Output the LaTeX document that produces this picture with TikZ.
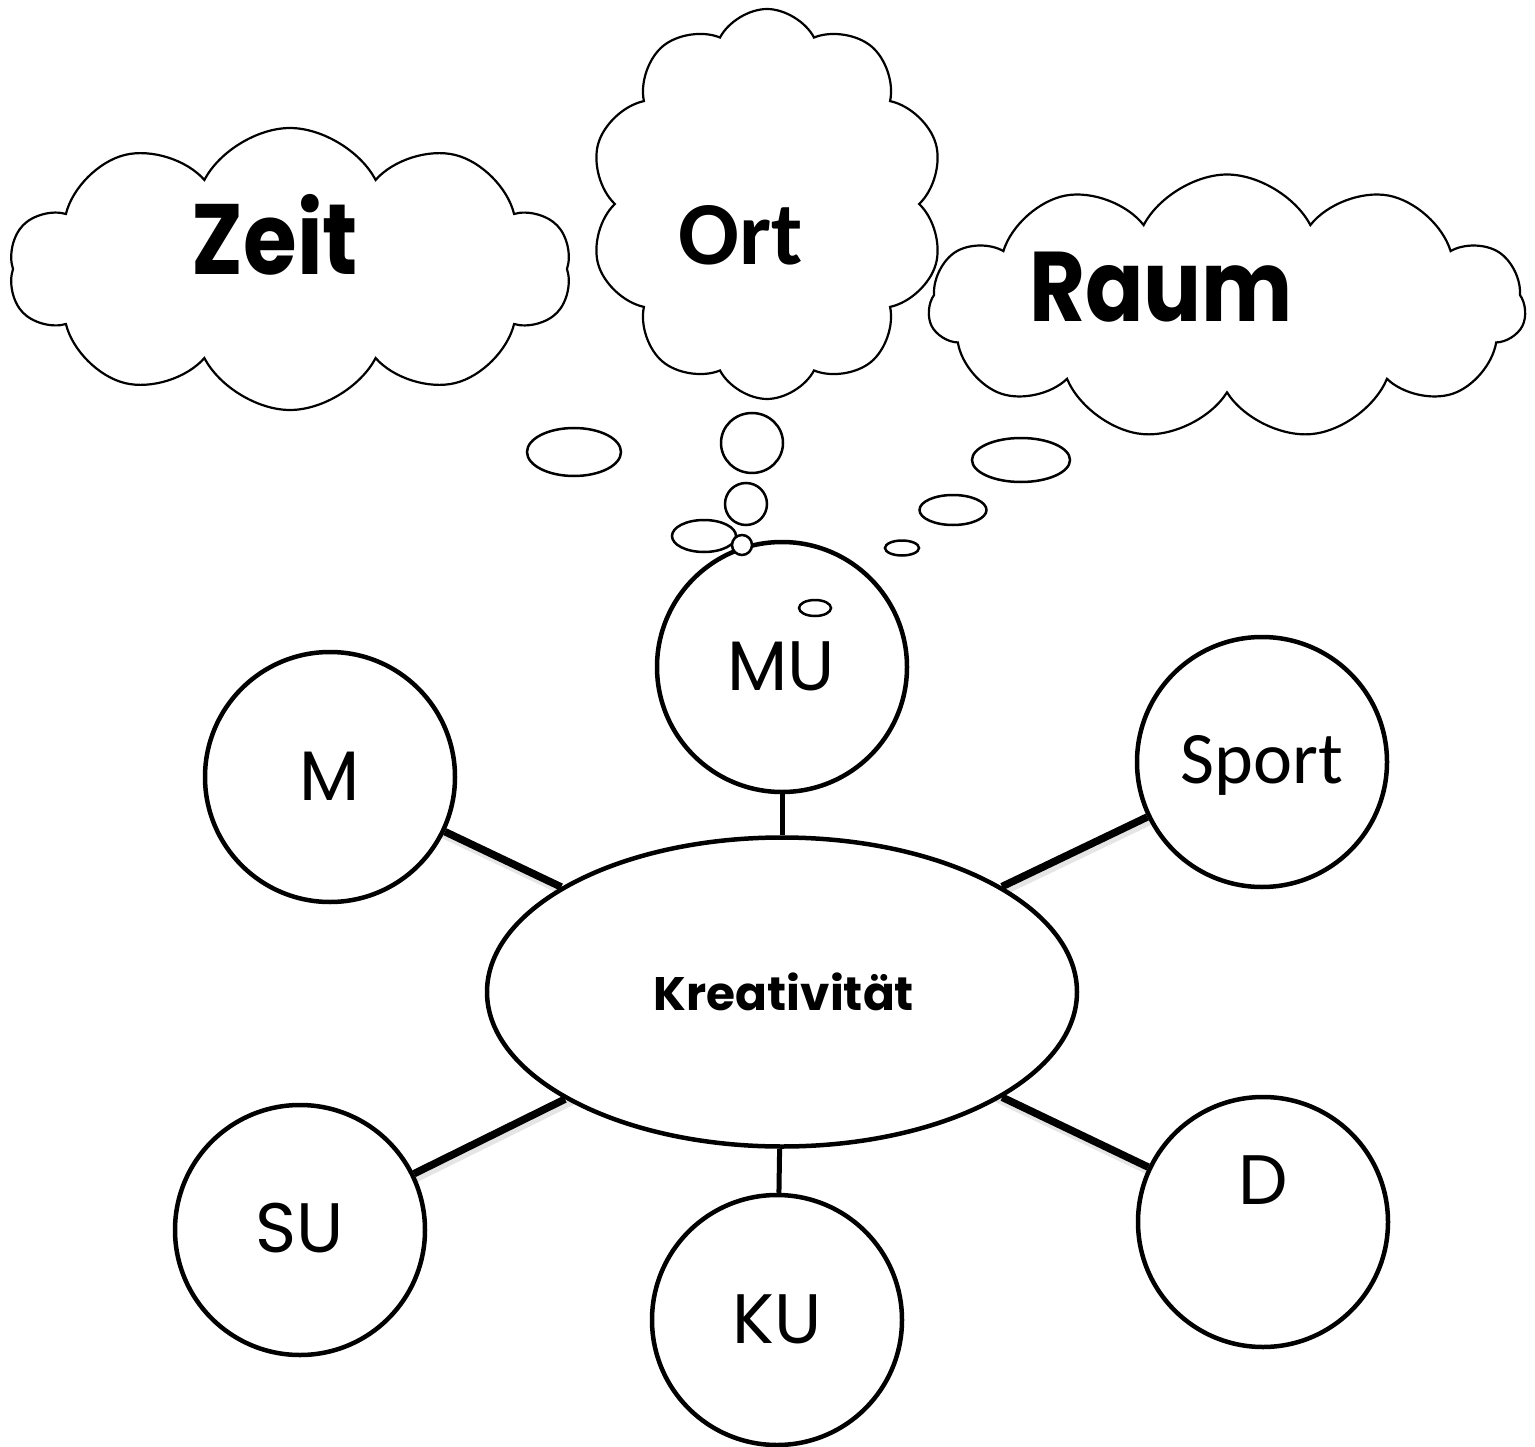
\documentclass[tikz,border=0pt]{standalone}
\usepackage{fontspec}
\newfontfamily\gothic{Poppins}
\newfontfamily\gothicn[FakeStretch=0.87]{Poppins}
\newfontfamily\calib{Carlito}
\usetikzlibrary{shapes.symbols,shapes.geometric}
\begin{document}
\begin{tikzpicture}[x=1pt,y=-1pt,
  subj/.style={circle,draw,line width=4.5pt,minimum size=250pt,inner sep=0pt,fill=white},
  lbl/.style={font=\gothic\fontsize{70}{76}\selectfont,anchor=base,inner sep=0pt},
  link/.style={line width=7.5pt},
  vlink/.style={line width=5pt},
  shade/.style={line width=7pt,black!10,shorten >=4pt,shorten <=4pt},
  cloudy/.style={cloud,draw,line width=2.2pt,fill=white,cloud ignores aspect,inner sep=0pt,cloud puff arc=125},
  bub/.style={ellipse,draw,line width=2.5pt,fill=white,inner sep=0pt},
]
\useasboundingbox (0,0) rectangle (1535,1447);
% clouds
\node[cloudy, cloud puffs=10, minimum width=562pt, minimum height=282pt] (cZeit) at (290,269) {};
\node[cloudy, cloud puffs=10, minimum width=355pt, minimum height=390pt] (cOrt) at (767,204) {};
\node[cloudy, cloud puffs=11, minimum width=597pt, minimum height=265pt] (cRaum) at (1227,307) {};
\node[font=\gothicn\bfseries\fontsize{100}{110}\selectfont,anchor=base,inner sep=0pt] (tZeit) at (275,275) {Zeit};
\node[font=\calib\bfseries\fontsize{90}{100}\selectfont,anchor=base,inner sep=0pt] (tOrt) at (741,265) {Ort};
\node[font=\gothicn\bfseries\fontsize{99}{108}\selectfont,anchor=base,inner sep=0pt] (tRaum) at (1161,322) {Raum};
% thought bubbles
\node[bub,minimum width=94pt,minimum height=48pt] (bA) at (574,452) {};
\node[bub,minimum width=62pt,minimum height=60pt] (bB) at (752,443) {};
\node[bub,minimum width=42pt,minimum height=42pt] (bC) at (746,504) {};
\node[bub,minimum width=64pt,minimum height=32pt] (bD) at (704,536) {};
\node[bub,minimum width=98pt,minimum height=44pt] (bF) at (1021,460) {};
\node[bub,minimum width=67pt,minimum height=30pt] (bG) at (953,510) {};
\node[bub,minimum width=34pt,minimum height=15pt] (bH) at (902,548) {};
% subjects
\coordinate (kc) at (782,992);
\coordinate (mc) at (330,777);
\coordinate (sc) at (1262,762);
\coordinate (uc) at (300,1230);
\coordinate (dc) at (1263,1222);
\draw[shade] ([shift={(2,5)}]mc) -- ([shift={(2,5)}]kc);
\draw[shade] ([shift={(2,5)}]sc) -- ([shift={(2,5)}]kc);
\draw[shade] ([shift={(2,5)}]uc) -- ([shift={(2,5)}]kc);
\draw[shade] ([shift={(2,5)}]dc) -- ([shift={(2,5)}]kc);
\node[subj] (MU) at (782,667) {};
\node[subj] (M) at (mc) {};
\node[subj] (Sp) at (sc) {};
\node[subj] (SU) at (uc) {};
\node[subj] (KU) at (777,1320) {};
\node[subj] (D) at (dc) {};
\node[ellipse,draw,line width=4.5pt,minimum width=590pt,minimum height=309pt,inner sep=0pt,fill=white] (K) at (kc) {};
\node[bub,minimum width=20pt,minimum height=20pt] (bE) at (742,545) {};
\node[bub,minimum width=32pt,minimum height=16pt] (bI) at (815,608) {};
% labels
\node[lbl] (tMU) at (781,690) {MU};
\node[lbl] (tM) at (330,800) {M};
\node[font=\calib\fontsize{74}{80}\selectfont,anchor=base,inner sep=0pt] (tSp) at (1262,783) {Sport};
\node[lbl] (tSU) at (300,1252) {SU};
\node[lbl] (tKU) at (777,1343) {KU};
\node[lbl] (tD) at (1263,1204) {D};
\node[font=\gothic\bfseries\fontsize{47}{56}\selectfont,anchor=base,inner sep=0pt] (tK) at (784,1010) {Kreativität};
% connectors
\draw[vlink] (MU) -- (K);
\draw[vlink] (KU) -- (K);
\draw[link] (M) -- (K);
\draw[link] (Sp) -- (K);
\draw[link] (SU) -- (K);
\draw[link] (D) -- (K);
\end{tikzpicture}
\end{document}
